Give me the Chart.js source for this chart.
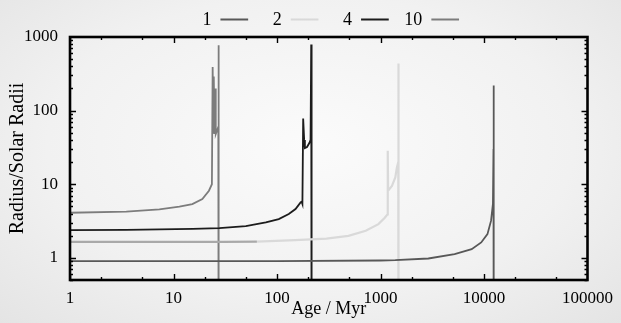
<!DOCTYPE html>
<html>
<head>
<meta charset="utf-8">
<script src="https://cdn.jsdelivr.net/npm/chart.js@4/dist/chart.umd.min.js"></script>
<style>
  html, body { margin: 0; padding: 0; }
  body {
    width: 621px; height: 323px; overflow: hidden;
    background: radial-gradient(ellipse at 50% 45%, #fbfbfb 0%, #f1f1f1 60%, #e4e4e4 100%);
  }
  #wrap { position: relative; width: 621px; height: 323px; }
</style>
</head>
<body>
<div id="wrap"><canvas id="chart" width="621" height="323"></canvas></div>
<script>
// masses (légende) et traces : âge en Myr, rayon en rayons solaires
const masses = ['1', '2', '4', '10']
const xTicks = [1, 10, 100, 1000, 10000, 100000]
const yTicks = [1, 10, 100, 1000]

const age1 = [1, 10, 100, 1000, 1390, 2900, 5200, 7600, 9400, 10800, 11700, 12200, 12350, 12400, 12420]
const rad1 = [0.9, 0.9, 0.9, 0.92, 0.93, 0.98, 1.12, 1.31, 1.62, 2.1, 3.2, 5.4, 30, 220, 0.01]

const age2 = [1, 10, 30, 64, 150, 300, 490, 720, 955, 1100, 1170, 1175, 1185, 1290, 1390, 1440, 1485, 1490, 1495]
const rad2 = [1.65, 1.65, 1.65, 1.66, 1.74, 1.82, 1.99, 2.33, 2.87, 3.5, 3.9, 28.5, 8.2, 9.5, 12.4, 16.9, 20, 436, 0.01]

const age4 = [1, 3.5, 15.3, 27.7, 50, 78, 104, 130, 151, 169, 173, 176, 179, 183, 186, 195, 206, 211, 214, 216]
const rad4 = [2.38, 2.4, 2.48, 2.54, 2.7, 3.03, 3.36, 3.93, 4.6, 5.65, 5.8, 5.4, 78, 40, 31, 32, 36.6, 40, 790, 0.01]

const age10 = [1, 3.5, 7.3, 11.4, 15.2, 19, 22, 23.5, 23.9, 24.2, 24.5, 24.9, 25.3, 25.6, 27.1, 27.25, 27.35]
const rad10 = [4.1, 4.25, 4.54, 4.95, 5.38, 6.27, 8.17, 10, 390, 50, 290, 48, 200, 48, 60, 770, 0.01]

const colors = ['#585858', '#d9d9d9', '#1c1c1c', '#7c7c7c']

function toPoints(xs, ys){  // couples (x,y) pour Chart.js
  return xs.map((x, i) => ({x: x, y: ys[i]}))
}

const tracks = [[age1, rad1], [age2, rad2], [age4, rad4], [age10, rad10]]
const datasets = tracks.map((t, i) => ({
  label: masses[i],
  data: toPoints(t[0], t[1]),
  borderColor: colors[i],
  backgroundColor: colors[i],
  borderWidth: 1.8,
  pointRadius: 0,
  tension: 0,
  fill: false
}))
// le début de la trace 2 apparaît plus foncé (double trait gris)
datasets[1].segment = {
  borderColor: c => c.p1.parsed.x <= 64 ? '#a9a9a9' : undefined
}
datasets[1].borderWidth = 2.2

const serif = 'Liberation Serif, Times New Roman, serif'

// légende façon gnuplot : texte puis trait
const keyLegend = {
  id: 'keyLegend',
  afterDraw(chart){
    const ctx = chart.ctx
    const cx = (chart.chartArea.left + chart.chartArea.right) / 2
    ctx.save()
    ctx.font = '18px ' + serif
    ctx.textBaseline = 'middle'
    ctx.textAlign = 'right'
    chart.data.datasets.forEach((ds, i) => {
      const x0 = cx - 108.3 + 70.3 * i
      ctx.fillStyle = '#000'
      ctx.fillText(ds.label, x0 - 9, 20)
      ctx.strokeStyle = colors[i]
      ctx.lineWidth = 2
      ctx.beginPath()
      ctx.moveTo(x0, 19.5)
      ctx.lineTo(x0 + 27.7, 19.5)
      ctx.stroke()
    })
    ctx.restore()
  }
}

// cadre noir + graduations intérieures sur les 4 côtés
const frame = {
  id: 'frame',
  afterDatasetsDraw(chart){
    const {ctx, chartArea: a, scales} = chart
    const x = scales.x, y = scales.y
    ctx.save()
    ctx.strokeStyle = '#000'
    ctx.lineWidth = 1.4
    ctx.beginPath()
    for (let d = 0; d < 5; d++){
      for (const m of [1, 2, 5]){
        const v = Math.pow(10, d) * m
        const px = Math.round(x.getPixelForValue(v)) + 0.5
        const len = m == 1 ? 6 : 3
        ctx.moveTo(px, a.bottom); ctx.lineTo(px, a.bottom - len)
        ctx.moveTo(px, a.top); ctx.lineTo(px, a.top + len)
      }
    }
    for (let d = -1; d < 3; d++){
      for (let m = 1; m < 10; m++){
        const v = Math.pow(10, d) * m
        if (v < 0.5 || v > 1000) continue
        const py = Math.round(y.getPixelForValue(v)) + 0.5
        const len = m == 1 ? 6 : 3
        ctx.moveTo(a.left, py); ctx.lineTo(a.left + len, py)
        ctx.moveTo(a.right, py); ctx.lineTo(a.right - len, py)
      }
    }
    ctx.stroke()
    ctx.lineWidth = 2.6
    ctx.strokeRect(a.left, a.top, a.right - a.left, a.bottom - a.top)
    ctx.restore()
  }
}

new Chart(document.getElementById('chart').getContext('2d'), {
  type: 'line',
  data: { datasets: datasets },
  options: {
    responsive: false,
    animation: false,
    layout: { padding: { top: 37, right: 31, bottom: 0, left: 0 } },
    plugins: {
      legend: { display: false },
      tooltip: { enabled: false }
    },
    scales: {
      x: {
        type: 'logarithmic',
        min: 1, max: 100000,
        afterBuildTicks: s => { s.ticks = xTicks.map(v => ({value: v})) },
        afterFit: s => { s.height = 43 },
        grid: { display: false, drawTicks: false },
        border: { display: false },
        ticks: {
          padding: 8, color: '#000', maxRotation: 0, autoSkip: false,
          font: { family: serif, size: 17 },
          callback: v => String(v)
        },
        title: {
          display: true, text: 'Age / Myr', color: '#000',
          font: { family: serif, size: 18 },
          padding: { top: 0, bottom: 3 }
        }
      },
      y: {
        type: 'logarithmic',
        min: 0.5, max: 1000,
        afterBuildTicks: s => { s.ticks = yTicks.map(v => ({value: v})) },
        afterFit: s => { s.width = 70 },
        grid: { display: false, drawTicks: false },
        border: { display: false },
        ticks: {
          padding: 12, color: '#000', autoSkip: false,
          font: { family: serif, size: 17 },
          callback: v => String(v)
        },
        title: {
          display: true, text: 'Radius/Solar Radii', color: '#000',
          font: { family: serif, size: 20 },
          padding: { top: 6, bottom: 0 }
        }
      }
    }
  },
  plugins: [frame, keyLegend]
})
</script>
</body>
</html>
